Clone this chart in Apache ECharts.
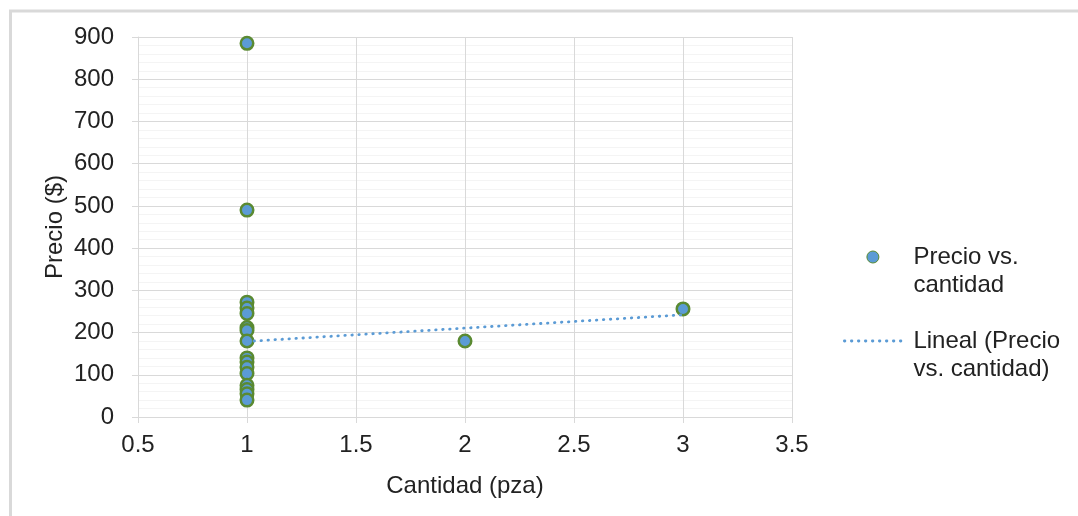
<!DOCTYPE html>
<html>
<head>
<meta charset="utf-8">
<script src="https://cdn.jsdelivr.net/npm/echarts@6/dist/echarts.min.js"></script>
<style>
html,body{margin:0;padding:0;background:#fff;}
#chart{width:1078px;height:516px;}
</style>
</head>
<body>
<div id="chart"></div>
<script>
// Data
const quantities = [1, 1, 1, 1, 1, 1, 1, 1, 1, 1, 1, 1, 1, 1, 1, 1, 2, 3];
const prices = [885, 490, 272, 258, 245, 212, 205, 180, 140, 130, 118, 103, 75, 65, 55, 40, 180, 256];
const trendQuantities = [1, 3];
const trendPrices = [179, 242];
const seriesNames = ['Precio vs.\ncantidad', 'Lineal (Precio\nvs. cantidad)'];
const xAxisTitle = 'Cantidad (pza)';
const yAxisTitle = 'Precio ($)';

const scatterData = quantities.map((q, i) => [q, prices[i]]);
const trendData = trendQuantities.map((q, i) => [q, trendPrices[i]]);

const font = 'Liberation Sans, Arial, sans-serif';
const textColor = '#222222';
const gridColor = '#d9d9d9';
const fillBlue = '#5b9bd5';
const borderGreen = '#5a8a32';

const chart = echarts.init(document.getElementById('chart'), null, {renderer: 'canvas'});
chart.setOption({
  animation: false,
  backgroundColor: '#fff',
  graphic: [{
    type: 'rect',
    shape: {x: 10.5, y: 11, width: 1200, height: 700},
    style: {fill: 'none', stroke: '#d9d9d9', lineWidth: 3},
    silent: true, z: -1
  }],
  grid: {left: 138, right: 286, top: 37, bottom: 99, containLabel: false},
  legend: {
    orient: 'vertical',
    left: 843,
    top: 215,
    padding: 0,
    itemWidth: 57,
    itemHeight: 12,
    itemGap: 0,
    formatter: name => '\n' + name,
    lineStyle: {width: 2.8},
    textStyle: {
      fontFamily: font, fontSize: 24, color: textColor, lineHeight: 28,
      padding: [0, 0, 0, 7]
    },
    data: [
      {name: seriesNames[0], icon: 'circle', itemStyle: {color: fillBlue, borderColor: borderGreen, borderWidth: 1}},
      {name: seriesNames[1]}
    ]
  },
  xAxis: {
    type: 'value',
    min: 0.5, max: 3.5, interval: 0.5,
    name: xAxisTitle,
    nameLocation: 'middle',
    nameGap: 57,
    nameMoveOverlap: false,
    nameTextStyle: {fontFamily: font, fontSize: 24, color: textColor, verticalAlign: 'top'},
    axisLine: {show: true, onZero: false, lineStyle: {color: gridColor, width: 1}},
    axisTick: {show: true, inside: false, length: 6, lineStyle: {color: gridColor}},
    axisLabel: {fontFamily: font, fontSize: 24, color: textColor, margin: 16,
      formatter: v => String(v)},
    splitLine: {show: true, lineStyle: {color: gridColor, width: 1}}
  },
  yAxis: {
    type: 'value',
    min: 0, max: 900, interval: 100,
    name: yAxisTitle,
    nameLocation: 'middle',
    nameGap: 71,
    nameMoveOverlap: false,
    nameRotate: 90,
    nameTextStyle: {fontFamily: font, fontSize: 24, color: textColor},
    axisLine: {show: true, lineStyle: {color: gridColor, width: 1}},
    axisTick: {show: true, inside: false, length: 6, lineStyle: {color: gridColor}},
    axisLabel: {fontFamily: font, fontSize: 24, color: textColor, margin: 24},
    splitLine: {show: true, lineStyle: {color: gridColor, width: 1}},
    minorTick: {show: false, splitNumber: 5},
    minorSplitLine: {show: true, lineStyle: {color: '#f4f4f4', width: 1}}
  },
  series: [
    {
      name: seriesNames[0],
      type: 'scatter',
      data: scatterData,
      symbol: 'circle',
      symbolSize: 12.5,
      itemStyle: {color: fillBlue, borderColor: borderGreen, borderWidth: 2.5, opacity: 1},
      z: 3
    },
    {
      name: seriesNames[1],
      type: 'line',
      data: trendData,
      showSymbol: false,
      symbol: 'none',
      lineStyle: {color: fillBlue, width: 2.8, type: [0.5, 6.5], cap: 'round'},
      itemStyle: {color: 'rgba(0,0,0,0)', borderWidth: 0},
      z: 4
    }
  ]
});
</script>
</body>
</html>
